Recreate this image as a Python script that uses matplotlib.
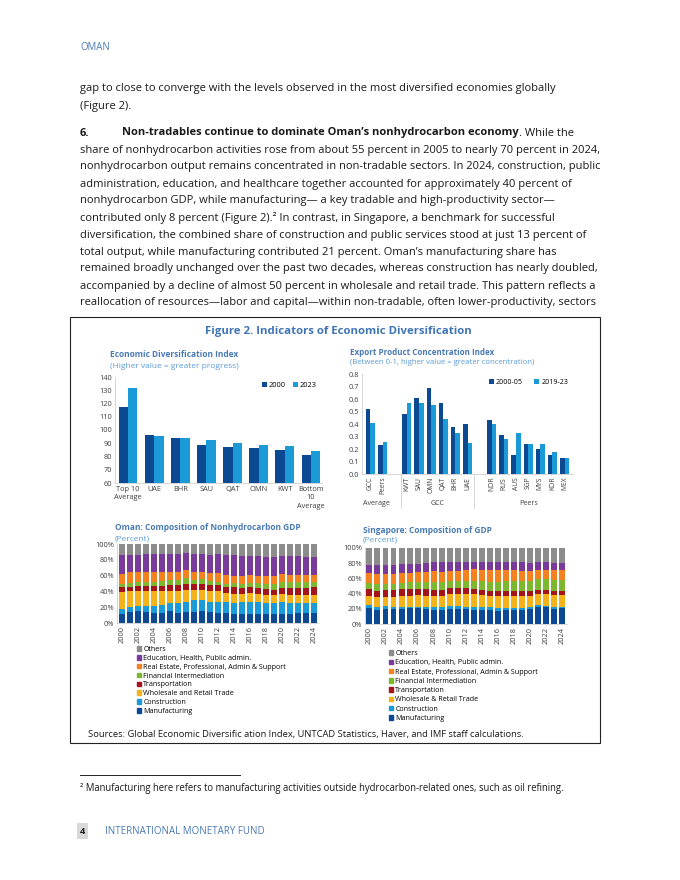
import matplotlib
matplotlib.use("Agg")
import matplotlib.pyplot as plt
from matplotlib.patches import Rectangle, Patch
from matplotlib.lines import Line2D
import matplotlib.transforms as mtrans
import numpy as np

W, H = 680, 880
plt.rcParams["font.family"] = ["Open Sans", "DejaVu Sans"]

# ---- page text ----
BODY_LINES = [
    "gap to close to converge with the levels observed in the most diversified economies globally",
    "(Figure 2).",
    None,  # the "6." headline line, drawn in pieces
    "share of nonhydrocarbon activities rose from about 55 percent in 2005 to nearly 70 percent in 2024,",
    "nonhydrocarbon output remains concentrated in non-tradable sectors. In 2024, construction, public",
    "administration, education, and healthcare together accounted for approximately 40 percent of",
    "nonhydrocarbon GDP, while manufacturing\u2014 a key tradable and high-productivity sector\u2014",
    "contributed only 8 percent (Figure 2).\u00b2 In contrast, in Singapore, a benchmark for successful",
    "diversification, the combined share of construction and public services stood at just 13 percent of",
    "total output, while manufacturing contributed 21 percent. Oman\u2019s manufacturing share has",
    "remained broadly unchanged over the past two decades, whereas construction has nearly doubled,",
    "accompanied by a decline of almost 50 percent in wholesale and retail trade. This pattern reflects a",
    "reallocation of resources\u2014labor and capital\u2014within non-tradable, often lower-productivity, sectors",
]
HEAD_BOLD = "Non-tradables continue to dominate Oman\u2019s nonhydrocarbon economy"
HEAD_REST = ". While the"

# ---- Economic Diversification Index ----
EDI_CATS = ["Top 10\nAverage", "UAE", "BHR", "SAU", "QAT", "OMN", "KWT", "Bottom\n10\nAverage"]
EDI_2000 = [117, 96, 94, 88.5, 87, 86.5, 85, 81.5]
EDI_2023 = [132, 95.5, 94, 92.5, 90, 89, 88, 84]

# ---- Export Product Concentration Index ----
EPC_GROUPS = ["Average", "GCC", "Peers"]
EPC_GROUP_SIZES = [2, 6, 7]
EPC_CATS = ["GCC", "Peers", "KWT", "SAU", "OMN", "QAT", "BHR", "UAE",
            "NOR", "RUS", "AUS", "SGP", "MYS", "KOR", "MEX"]
EPC_2000_05 = [0.52, 0.23, 0.48, 0.61, 0.69, 0.57, 0.38, 0.40,
               0.43, 0.31, 0.15, 0.24, 0.20, 0.15, 0.13]
EPC_2019_23 = [0.41, 0.26, 0.57, 0.57, 0.55, 0.44, 0.33, 0.25,
               0.40, 0.28, 0.33, 0.24, 0.24, 0.18, 0.13]

# ---- GDP composition (percent), 2000-2024 ----
YEARS = list(range(2000, 2025))
SECTORS_OMN = ["Manufacturing", "Construction", "Wholesale and Retail Trade", "Transportation",
               "Financial Intermediation", "Real Estate, Professional, Admin & Support",
               "Education, Health, Public admin.", "Others"]
SECTORS_SGP = ["Manufacturing", "Construction", "Wholesale & Retail Trade", "Transportation",
               "Financial Intermediation", "Real Estate, Professional, Admin & Support",
               "Education, Health, Public admin.", "Others"]
OMN_MANUF = [12, 14, 15, 14, 13, 13, 15, 13, 14, 14, 15, 14, 13, 13, 12, 12, 12, 12, 12, 12, 12, 12, 13, 13, 13]
OMN_CONSTR = [6, 6, 7, 8, 8, 10, 10, 12, 13, 15, 14, 13, 14, 13, 13, 14, 15, 14, 13, 13, 14, 13, 12, 12, 12]
OMN_TRADE = [21, 20, 19, 18, 19, 18, 15, 16, 15, 13, 13, 14, 14, 12, 12, 11, 11, 11, 11, 10, 11, 11, 11, 11, 11]
OMN_TRANSP = [6, 6, 6, 7, 7, 6, 8, 7, 8, 7, 7, 7, 7, 7, 8, 7, 7, 7, 7, 7, 7, 8, 8, 8, 9]
OMN_FIN = [5, 5, 5, 5, 5, 6, 6, 7, 7, 6, 7, 5, 4, 5, 6, 6, 6, 7, 7, 8, 8, 8, 8, 8, 7]
OMN_REAL = [12, 13, 12, 12, 12, 11, 11, 10, 10, 10, 9, 10, 11, 11, 9, 10, 10, 9, 10, 9, 10, 9, 9, 9, 9]
OMN_EDU = [24, 22, 22, 23, 23, 23, 22, 22, 21, 22, 22, 23, 24, 25, 26, 25, 24, 25, 24, 25, 23, 24, 24, 23, 23]
OMN_OTH = [14, 14, 14, 13, 13, 13, 13, 13, 12, 13, 13, 14, 13, 14, 14, 15, 15, 15, 16, 16, 15, 15, 15, 16, 16]

SGP_MANUF = [21, 19, 20, 20, 20, 21, 21, 20, 19, 19, 20, 20, 20, 19, 19, 18, 17, 18, 18, 18, 20, 22, 22, 20, 21]
SGP_CONSTR = [4, 4, 4, 3, 3, 2, 2, 2, 3, 3, 4, 4, 3, 4, 3, 4, 4, 3, 3, 3, 3, 3, 2, 3, 2]
SGP_TRADE = [12, 12, 12, 13, 14, 14, 15, 15, 15, 15, 15, 15, 16, 16, 16, 15, 16, 16, 16, 16, 14, 14, 15, 15, 15]
SGP_TRANSP = [9, 9, 9, 9, 9, 9, 8, 9, 8, 8, 8, 8, 8, 7, 7, 7, 6, 7, 7, 6, 6, 6, 6, 6, 6]
SGP_FIN = [8, 9, 8, 8, 8, 9, 9, 9, 10, 10, 9, 9, 9, 10, 11, 11, 12, 12, 12, 13, 14, 14, 14, 14, 14]
SGP_REAL = [13, 13, 13, 13, 13, 12, 13, 14, 15, 14, 14, 14, 15, 16, 15, 16, 16, 15, 15, 14, 13, 12, 12, 13, 13]
SGP_EDU = [11, 12, 12, 12, 12, 12, 11, 11, 11, 12, 12, 12, 11, 10, 11, 10, 10, 10, 10, 11, 10, 10, 10, 9, 9]
SGP_OTH = [22, 22, 22, 22, 21, 21, 21, 20, 19, 19, 18, 18, 18, 18, 18, 19, 19, 19, 19, 19, 20, 19, 19, 20, 20]

SECTOR_COLORS = ["#0b4a92", "#1a9bd7", "#f5b31b", "#a6141b", "#7cb82f", "#f5821f", "#7a3a9c", "#8c8c8c"]
NAVY, LBLUE = "#0b4a92", "#1a9bd7"
HEAD_BLUE = "#4a7ab4"
SUB_BLUE = "#5b9bd5"
TXT = "#1a1a1a"
TICK = "#404040"


def fx(x):
    return x / W


def fy(y):
    return 1 - y / H


def add_ax(fig, l, t, r, b):
    return fig.add_axes([l / W, 1 - b / H, (r - l) / W, (b - t) / H])


def style_ax(ax):
    for s in ["top", "right"]:
        ax.spines[s].set_visible(False)
    for s in ["left", "bottom"]:
        ax.spines[s].set_color("#d0d0d0")
        ax.spines[s].set_linewidth(0.6)
    ax.tick_params(length=0, labelsize=5.3, colors=TICK, pad=2)


def stacked(ax, series):
    x = np.arange(len(YEARS))
    bottom = np.zeros(len(YEARS))
    for vals, col in zip(series, SECTOR_COLORS):
        ax.bar(x, vals, 0.74, bottom=bottom, color=col, linewidth=0)
        bottom += np.array(vals)
    ax.set_ylim(0, 100)
    ax.set_yticks(range(0, 101, 20))
    ax.set_yticklabels([f"{v}%" for v in range(0, 101, 20)])
    ax.set_xticks(x[::2])
    ax.set_xticklabels([str(y) for y in YEARS[::2]], rotation=90)
    style_ax(ax)


def main():
    fig = plt.figure(figsize=(6.8, 8.8), dpi=100)
    r = fig.canvas.get_renderer()

    # body font size fitted to the widest line (~515 px)
    probe = fig.text(0, 0, BODY_LINES[3], fontsize=10)
    fs = 10 * 515 / probe.get_window_extent(r).width
    probe.remove()

    fig.text(fx(80), fy(48), "OMAN", fontsize=6.9, color=HEAD_BLUE, va="center")

    ys = [88, 106, 133]
    for i in range(3, len(BODY_LINES)):
        ys.append(133 + 17.0 * (i - 2))
    for line, y in zip(BODY_LINES, ys):
        if line is None:
            fig.text(fx(80), fy(y), "6.", fontsize=fs, weight="bold", color=TXT, va="center")
            tb = fig.text(fx(122), fy(y), HEAD_BOLD, fontsize=fs, weight="bold", color=TXT, va="center")
            xe = tb.get_window_extent(r).x1
            fig.text(xe / W, fy(y), HEAD_REST, fontsize=fs, color=TXT, va="center")
        else:
            fig.text(fx(80), fy(y), line, fontsize=fs, color=TXT, va="center")

    # figure box
    fig.patches.append(Rectangle((fx(70), fy(743)), (600 - 70) / W, (743 - 317) / H,
                                 transform=fig.transFigure, fill=False, lw=0.8, ec="#222222"))
    fig.text(fx(338), fy(331), "Figure 2. Indicators of Economic Diversification",
             fontsize=8.2, weight="bold", color="#3f75b5", ha="center", va="center")
    fig.text(fx(88), fy(734), "Sources: Global Economic Diversific ation Index, UNTCAD Statistics, Haver, and IMF staff calculations.",
             fontsize=fs * 0.85, color=TXT, va="center")

    # (A) economic diversification index
    fig.text(fx(110), fy(354), "Economic Diversification Index", fontsize=6.0, weight="bold", color=HEAD_BLUE, va="center")
    fig.text(fx(110), fy(367), "(Higher value = greater progress)", fontsize=6.0, color=SUB_BLUE, va="center")
    ax = add_ax(fig, 115, 377, 322, 483)
    x = np.arange(len(EDI_CATS))
    ax.bar(x - 0.18, EDI_2000, 0.36, color=NAVY, label="2000")
    ax.bar(x + 0.18, EDI_2023, 0.36, color=LBLUE, label="2023")
    ax.set_ylim(60, 140)
    ax.set_yticks(range(60, 141, 10))
    ax.set_xlim(-0.5, 7.42)
    ax.set_xticks(x)
    ax.set_xticklabels(EDI_CATS, linespacing=1.3)
    style_ax(ax)
    ax.legend(loc="upper right", ncol=2, frameon=False, fontsize=5.3, handlelength=0.7, handleheight=0.7,
              handletextpad=0.3, columnspacing=0.9, borderaxespad=0.3)

    # (B) export product concentration index
    fig.text(fx(350), fy(352), "Export Product Concentration Index", fontsize=5.8, weight="bold", color=HEAD_BLUE, va="center")
    fig.text(fx(350), fy(363), "(Between 0-1, higher value = greater concentration)", fontsize=5.6, color=SUB_BLUE, va="center")
    ax = add_ax(fig, 362, 374, 573, 474)
    pos, centers = [], []
    start = 0
    for n in EPC_GROUP_SIZES:
        pos += list(range(start, start + n))
        centers.append(start + (n - 1) / 2)
        start += n + 1
    pos = np.array(pos)
    ax.bar(pos - 0.19, EPC_2000_05, 0.38, color=NAVY, label="2000-05")
    ax.bar(pos + 0.19, EPC_2019_23, 0.38, color=LBLUE, label="2019-23")
    ax.set_ylim(0, 0.8)
    ax.set_yticks(np.arange(0, 0.81, 0.1))
    ax.set_yticklabels([f"{v:.1f}" for v in np.arange(0, 0.81, 0.1)])
    ax.set_xlim(-0.7, pos[-1] + 0.7)
    ax.set_xticks(pos)
    ax.set_xticklabels(EPC_CATS, rotation=90)
    style_ax(ax)
    ax.tick_params(axis="x", labelsize=4.9)
    trans = mtrans.blended_transform_factory(ax.transData, ax.transAxes)
    n0, n1 = EPC_GROUP_SIZES[0], EPC_GROUP_SIZES[0] + EPC_GROUP_SIZES[1]
    for b in [pos[n0] - 0.5, pos[n1 - 1] + 0.5]:
        ax.add_line(Line2D([b, b], [0, -0.34], transform=trans, color="#d0d0d0", lw=0.6, clip_on=False))
    for c, g in zip(centers, EPC_GROUPS):
        ax.text(c, -0.29, g, transform=trans, ha="center", va="center", fontsize=5.1, color=TICK)
    ax.legend(loc="upper right", ncol=2, frameon=False, fontsize=5.1, handlelength=0.7, handleheight=0.7,
              handletextpad=0.3, columnspacing=1.6, borderaxespad=0.3)

    # (C) Oman composition
    fig.text(fx(115), fy(527), "Oman: Composition of Nonhydrocarbon GDP", fontsize=6.0, weight="bold", color=HEAD_BLUE, va="center")
    fig.text(fx(115), fy(539), "(Percent)", fontsize=6.0, color=SUB_BLUE, va="center")
    ax = add_ax(fig, 117, 544, 318, 623)
    stacked(ax, [OMN_MANUF, OMN_CONSTR, OMN_TRADE, OMN_TRANSP, OMN_FIN, OMN_REAL, OMN_EDU, OMN_OTH])
    ax.set_xlim(-0.62, 24.5)
    handles = [Patch(color=c) for c in SECTOR_COLORS][::-1]
    fig.legend(handles, SECTORS_OMN[::-1], loc="upper left", bbox_to_anchor=(fx(137), fy(646)),
               frameon=False, fontsize=5.1, handlelength=0.6, handleheight=0.6, handletextpad=0.3,
               labelspacing=0.26, borderpad=0, borderaxespad=0)

    # (D) Singapore composition
    fig.text(fx(363), fy(530), "Singapore: Composition of GDP", fontsize=6.0, weight="bold", color=HEAD_BLUE, va="center")
    fig.text(fx(363), fy(540), "(Percent)", fontsize=6.0, color=SUB_BLUE, va="center")
    ax = add_ax(fig, 365, 548, 567, 624)
    stacked(ax, [SGP_MANUF, SGP_CONSTR, SGP_TRADE, SGP_TRANSP, SGP_FIN, SGP_REAL, SGP_EDU, SGP_OTH])
    ax.set_xlim(-0.55, 24.6)
    fig.legend(handles, SECTORS_SGP[::-1], loc="upper left", bbox_to_anchor=(fx(389), fy(650)),
               frameon=False, fontsize=5.1, handlelength=0.6, handleheight=0.6, handletextpad=0.3,
               labelspacing=0.32, borderpad=0, borderaxespad=0)

    # footnote + footer
    fig.add_artist(Line2D([fx(80), fx(240)], [fy(775), fy(775)], transform=fig.transFigure, color="#222222", lw=0.7))
    fig.text(fx(80), fy(788), "\u00b2 Manufacturing here refers to manufacturing activities outside hydrocarbon-related ones, such as oil refining.",
             fontsize=fs * 0.86, color=TXT, va="center")
    fig.patches.append(Rectangle((fx(77), fy(839)), 11 / W, 16 / H, transform=fig.transFigure,
                                 color="#d9d9d9", lw=0))
    fig.text(fx(80), fy(831), "4", fontsize=fs * 0.85, weight="bold", color=TXT, va="center")
    fig.text(fx(105), fy(831), "INTERNATIONAL MONETARY FUND", fontsize=fs * 0.88, color=HEAD_BLUE, va="center")

    fig.savefig("out.png", dpi=100)
    plt.close(fig)


if __name__ == "__main__":
    main()
